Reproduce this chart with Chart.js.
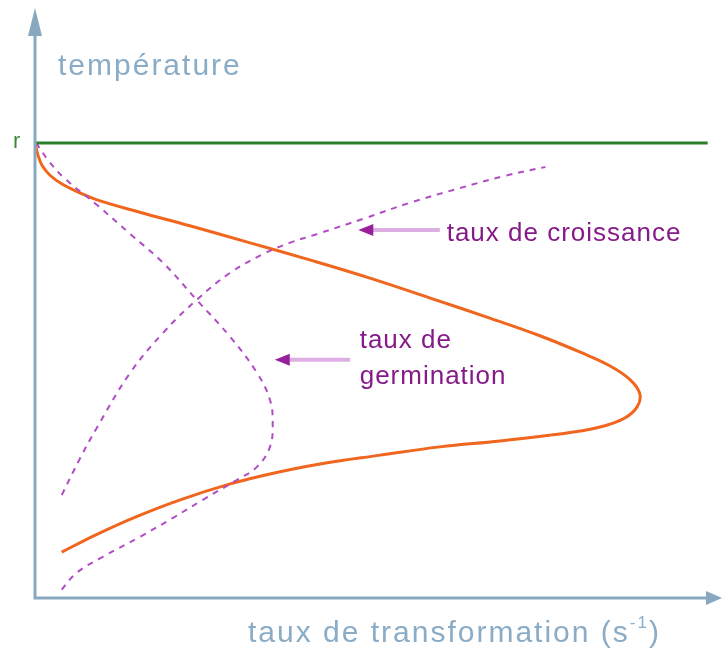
<!DOCTYPE html>
<html>
<head>
<meta charset="utf-8">
<script src="https://cdn.jsdelivr.net/npm/chart.js@4.4.1/dist/chart.umd.min.js"></script>
<style>
  html, body { margin: 0; padding: 0; background: #fff; }
  #wrap { width: 723px; height: 650px; position: relative; }
</style>
</head>
<body>
<div id="wrap"><canvas id="chartTransformation"></canvas></div>
<script>
// Températures et taux (unités arbitraires 0-100)
const tempFusion = 77.4;

// taux de transformation global (courbe orange)
const transfoRate = [0, 0.44, 1.02, 2.19, 3.94, 6.57, 9.05, 15.3, 22.6, 31.4, 40.1, 48.9, 57.7, 66.4, 73.7, 79.6, 83.9, 86.9, 88.3, 87.9, 86.1, 83.2, 79.6, 75.2, 67.9, 59.1, 50.4, 41.6, 34.3, 28.5, 21.2, 14.3, 8.8, 3.9];
const transfoTemp = [77.4, 75.3, 73.6, 71.9, 70.4, 68.9, 67.7, 65.6, 63.3, 60.4, 57.5, 54.4, 51.0, 47.6, 44.6, 41.8, 39.5, 37.1, 34.7, 32.5, 30.6, 29.3, 28.4, 27.7, 26.7, 25.7, 24.3, 22.8, 21.1, 19.4, 16.7, 13.6, 10.7, 7.8];

// taux de croissance (pointillés)
const croissRate = [3.9, 6.6, 9.1, 13.9, 18.7, 23.6, 28.5, 33.3, 37.2, 41.2, 48.2, 54.7, 62.0, 68.6, 74.5];
const croissTemp = [17.5, 23.8, 29.1, 38.3, 45.1, 50.7, 55.3, 58.5, 60.4, 61.9, 64.6, 67.2, 69.7, 71.8, 73.3];

// taux de germination (pointillés)
const germRate = [0.15, 1.9, 4.1, 9.1, 13.9, 18.7, 23.6, 28.5, 32.4, 34.3, 34.7, 34.3, 32.4, 29.5, 24.5, 20.1, 15.3, 9.9, 6.1, 3.6];
const germTemp = [77.4, 74.5, 71.6, 66.8, 61.9, 57.0, 50.7, 44.4, 38.3, 33.7, 29.8, 25.7, 22.3, 20.1, 16.7, 13.6, 10.4, 7.0, 4.3, 1.0];

const fusionLine = [0, 98.2];

function pts(xs, ys) {
  return xs.map((x, i) => ({ x: x, y: ys[i] }));
}

// Axes, flèches et textes
const decorPlugin = {
  id: 'decor',
  afterDatasetsDraw(chart) {
    const { ctx, chartArea: a, scales: { x, y } } = chart;
    const axisColor = '#88a8c0';
    ctx.save();

    // axes
    ctx.strokeStyle = axisColor;
    ctx.lineWidth = 3;
    ctx.beginPath();
    ctx.moveTo(a.left, a.top + 14);
    ctx.lineTo(a.left, a.bottom);
    ctx.lineTo(a.right - 12, a.bottom);
    ctx.stroke();
    ctx.fillStyle = axisColor;
    ctx.beginPath();
    ctx.moveTo(a.left, a.top - 2);
    ctx.lineTo(a.left - 7, a.top + 26);
    ctx.lineTo(a.left + 7, a.top + 26);
    ctx.closePath();
    ctx.fill();
    ctx.beginPath();
    ctx.moveTo(a.right + 2, a.bottom);
    ctx.lineTo(a.right - 14, a.bottom - 7);
    ctx.lineTo(a.right - 14, a.bottom + 7);
    ctx.closePath();
    ctx.fill();

    // titres des axes
    ctx.fillStyle = '#8aacc6';
    ctx.textBaseline = 'middle';
    ctx.letterSpacing = '2px';
    ctx.font = '30px "Liberation Sans"';
    ctx.fillText('température', 58, 67);
    let tx = 248;
    const ty = 634;
    const part1 = 'taux de transformation (s';
    ctx.fillText(part1, tx, ty);
    tx += ctx.measureText(part1).width;
    ctx.font = '17px "Liberation Sans"';
    ctx.fillText('-1', tx, ty - 11);
    tx += ctx.measureText('-1').width;
    ctx.font = '30px "Liberation Sans"';
    ctx.fillText(')', tx, ty);
    ctx.letterSpacing = '0px';

    // repère de fusion
    ctx.fillStyle = '#3a8a3a';
    ctx.font = '22px "Liberation Sans"';
    ctx.fillText('r', 13, y.getPixelForValue(tempFusion) - 1);

    // flèches d'annotation
    function arrow(x0, x1, yv) {
      const px0 = x.getPixelForValue(x0);
      const px1 = x.getPixelForValue(x1);
      const py = y.getPixelForValue(yv);
      ctx.strokeStyle = '#dcaee3';
      ctx.lineWidth = 4;
      ctx.beginPath();
      ctx.moveTo(px1, py);
      ctx.lineTo(px0 + 10, py);
      ctx.stroke();
      ctx.fillStyle = '#9a1f9a';
      ctx.beginPath();
      ctx.moveTo(px0, py);
      ctx.lineTo(px0 + 15, py - 6);
      ctx.lineTo(px0 + 15, py + 6);
      ctx.closePath();
      ctx.fill();
    }
    arrow(47.2, 59.1, 62.6);
    arrow(35.0, 46.0, 40.5);

    ctx.fillStyle = '#861a88';
    ctx.letterSpacing = '1px';
    ctx.font = '26px "Liberation Sans"';
    ctx.fillText('taux de croissance', x.getPixelForValue(60.1), y.getPixelForValue(62.0));
    ctx.fillText('taux de', x.getPixelForValue(47.4), y.getPixelForValue(43.7));
    ctx.fillText('germination', x.getPixelForValue(47.4), y.getPixelForValue(37.6));

    ctx.restore();
  }
};

const dashed = {
  borderColor: '#b04cc4',
  borderWidth: 2,
  borderDash: [6, 6],
  pointRadius: 0,
  showLine: true,
  tension: 0.4,
  fill: false
};

new Chart(document.getElementById('chartTransformation'), {
  type: 'scatter',
  data: {
    datasets: [
      {
        label: 'fusion',
        data: pts(fusionLine, [tempFusion, tempFusion]),
        borderColor: '#2c7f2c',
        borderWidth: 3,
        pointRadius: 0,
        showLine: true
      },
      Object.assign({ label: 'taux de croissance', data: pts(croissRate, croissTemp) }, dashed),
      Object.assign({ label: 'taux de germination', data: pts(germRate, germTemp) }, dashed),
      {
        label: 'taux de transformation',
        data: pts(transfoRate, transfoTemp),
        borderColor: '#f0661e',
        borderWidth: 3,
        pointRadius: 0,
        showLine: true,
        tension: 0.4
      }
    ]
  },
  options: {
    responsive: true,
    maintainAspectRatio: false,
    animation: false,
    layout: { padding: { left: 35, top: 10, right: 3, bottom: 52 } },
    scales: {
      x: { type: 'linear', min: 0, max: 100, display: false },
      y: { type: 'linear', min: 0, max: 100, display: false }
    },
    plugins: {
      legend: { display: false },
      tooltip: { enabled: false }
    }
  },
  plugins: [decorPlugin]
});
</script>
</body>
</html>
